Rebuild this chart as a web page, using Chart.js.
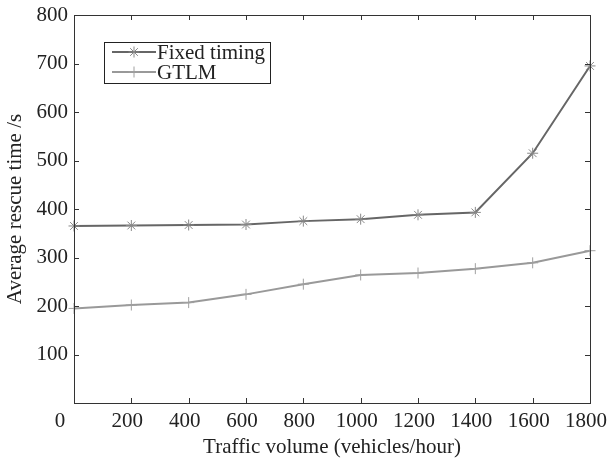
<!DOCTYPE html>
<html>
<head>
<meta charset="utf-8">
<script src="https://cdn.jsdelivr.net/npm/chart.js@4.4.1/dist/chart.umd.min.js"></script>
<style>
  html, body { margin: 0; padding: 0; background: #fff; }
  #wrap { width: 608px; height: 460px; }
</style>
</head>
<body>
<div id="wrap"><canvas id="c" width="608" height="460"></canvas></div>
<script>
const volumes = [0, 200, 400, 600, 800, 1000, 1200, 1400, 1600, 1800];
const fixedTiming = [365, 366, 367, 368, 375, 379, 388, 393, 515, 695];
const gtlm = [195, 202, 207, 224, 245, 264, 268, 277, 289, 314];
const xTicks = [0, 200, 400, 600, 800, 1000, 1200, 1400, 1600, 1800];
const yTicks = [100, 200, 300, 400, 500, 600, 700, 800];

const FONT = "'Liberation Serif', 'Times New Roman', serif";
const SIZE = 21;
const ink = "#222";

// MATLAB-style box: frame, inward ticks, origin label, legend
const frame = {
  id: "frame",
  afterDraw(chart) {
    const { ctx, chartArea: a, scales: { x, y } } = chart;
    ctx.save();
    ctx.strokeStyle = "#333";
    ctx.lineWidth = 1;
    ctx.strokeRect(a.left + 0.5, a.top + 0.5, a.right - a.left, a.bottom - a.top);
    ctx.beginPath();
    for (const v of xTicks) {
      const px = Math.round(x.getPixelForValue(v)) + 0.5;
      ctx.moveTo(px, a.bottom); ctx.lineTo(px, a.bottom - 5);
      ctx.moveTo(px, a.top); ctx.lineTo(px, a.top + 5);
    }
    for (const v of yTicks) {
      const py = Math.round(y.getPixelForValue(v)) + 0.5;
      ctx.moveTo(a.left, py); ctx.lineTo(a.left + 5, py);
      ctx.moveTo(a.right, py); ctx.lineTo(a.right - 5, py);
    }
    ctx.stroke();

    ctx.fillStyle = ink;
    ctx.font = SIZE + "px " + FONT;
    ctx.textAlign = "center";
    ctx.textBaseline = "middle";
    ctx.fillText("0", a.left - 14, a.bottom + 18);

    // legend
    const lx = a.left + 30, ly = a.top + 27, lw = 166, lh = 41;
    ctx.fillStyle = "#fff";
    ctx.fillRect(lx, ly, lw, lh);
    ctx.strokeStyle = "#222";
    ctx.strokeRect(lx + 0.5, ly + 0.5, lw, lh);
    chart.data.datasets.forEach((ds, i) => {
      const cy = ly + 10 + i * 20;
      ctx.strokeStyle = ds.borderColor;
      ctx.lineWidth = 2;
      ctx.beginPath();
      ctx.moveTo(lx + 8, cy); ctx.lineTo(lx + 52, cy);
      ctx.stroke();
      ctx.lineWidth = 1;
      ctx.strokeStyle = ds.pointBorderColor;
      const r = 5.5, cx = lx + 30;
      ctx.beginPath();
      ctx.moveTo(cx - r, cy); ctx.lineTo(cx + r, cy);
      ctx.moveTo(cx, cy - r); ctx.lineTo(cx, cy + r);
      if (ds.pointStyle === "star") {
        const d = r * 0.7;
        ctx.moveTo(cx - d, cy - d); ctx.lineTo(cx + d, cy + d);
        ctx.moveTo(cx - d, cy + d); ctx.lineTo(cx + d, cy - d);
      }
      ctx.stroke();
      ctx.fillStyle = ink;
      ctx.textAlign = "left";
      ctx.textBaseline = "middle";
      ctx.font = SIZE + "px " + FONT;
      ctx.fillText(ds.label, lx + 53, cy + 1);
    });
    ctx.restore();
  }
};

new Chart(document.getElementById("c"), {
  type: "line",
  data: {
    datasets: [
      {
        label: "Fixed timing",
        data: volumes.map((v, i) => ({ x: v, y: fixedTiming[i] })),
        borderColor: "#666",
        borderWidth: 2,
        pointStyle: "star",
        pointRadius: 5.5,
        pointBorderColor: "#888",
        pointBorderWidth: 1,
        pointBackgroundColor: "transparent",
        tension: 0,
      },
      {
        label: "GTLM",
        data: volumes.map((v, i) => ({ x: v, y: gtlm[i] })),
        borderColor: "#999",
        borderWidth: 2,
        pointStyle: "cross",
        pointRadius: 5.5,
        pointBorderColor: "#a0a0a0",
        pointBorderWidth: 1,
        pointBackgroundColor: "transparent",
        tension: 0,
      },
    ],
  },
  options: {
    responsive: false,
    animation: false,
    clip: false,
    layout: { padding: { top: 15, right: 18, left: 0, bottom: 0 } },
    plugins: { legend: { display: false }, tooltip: { enabled: false } },
    scales: {
      x: {
        type: "linear",
        min: 0,
        max: 1800,
        afterBuildTicks: (s) => { s.ticks = xTicks.map(v => ({ value: v })); },
        afterFit: (s) => { s.height = 57; s.paddingLeft = 0; s.paddingRight = 0; },
        ticks: {
          color: ink,
          font: { family: FONT, size: SIZE },
          padding: 6,
          labelOffset: -4,
          maxRotation: 0,
          autoSkip: false,
          callback: (v) => v === 0 ? "" : String(v),
        },
        grid: { display: true, drawOnChartArea: false, drawTicks: false },
        border: { display: false },
        title: {
          display: true,
          text: "Traffic volume (vehicles/hour)",
          color: ink,
          font: { family: FONT, size: SIZE },
          padding: { top: 2, bottom: 0 },
        },
      },
      y: {
        type: "linear",
        min: 0,
        max: 800,
        afterBuildTicks: (s) => { s.ticks = yTicks.map(v => ({ value: v })); },
        afterFit: (s) => { s.width = 74; s.paddingTop = 0; s.paddingBottom = 0; },
        ticks: {
          color: ink,
          font: { family: FONT, size: SIZE },
          padding: 6,
          autoSkip: false,
        },
        grid: { display: true, drawOnChartArea: false, drawTicks: false },
        border: { display: false },
        title: {
          display: true,
          text: "Average rescue time /s",
          color: ink,
          font: { family: FONT, size: SIZE },
          padding: { top: 3, bottom: 0 },
        },
      },
    },
  },
  plugins: [frame],
});
</script>
</body>
</html>
